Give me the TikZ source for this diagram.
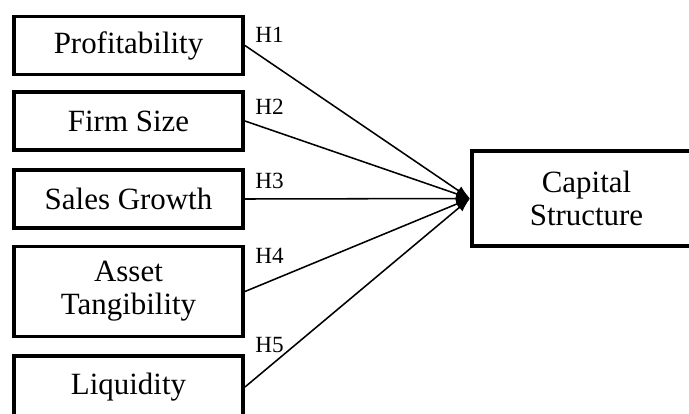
\documentclass[tikz,border=0pt]{standalone}
\usepackage{fontspec}
\setmainfont{Liberation Serif}
\usetikzlibrary{arrows.meta}
\begin{document}
\begin{tikzpicture}[var/.style={shape=rectangle, draw=black, line width=2.8pt, minimum width=5.725cm, minimum height=1.45cm, align=center, font=\fontsize{22}{23.5}\selectfont}, hyp/.style={anchor=base west, inner sep=0pt, font=\fontsize{16.5}{18}\selectfont}, link/.style={-{Latex[length=0.35cm, width=0.25cm]}, line width=1.1pt, draw=black}]
\useasboundingbox (0,0) rectangle (17.225,10.325);
\node[var] (prof) at (3.2125, 9.1875) {Profitability};
\node[var] (size) at (3.2125, 7.3) {Firm Size};
\node[var] (grow) at (3.2125, 5.35) {Sales Growth};
\node[var, minimum height=2.25cm] (tang) at (3.2125, 3.0375) {Asset\\Tangibility};
\node[var, minimum height=1.55cm] (liq) at (3.2125, 0.65) {Liquidity};
\node[var, minimum height=2.375cm] (cap) at (14.6625, 5.3625) {Capital\\Structure};
\node[hyp] (h1) at (6.375, 9.275) {H1};
\node[hyp] (h2) at (6.375, 7.45) {H2};
\node[hyp] (h3) at (6.375, 5.625) {H3};
\node[hyp] (h4) at (6.375, 3.75) {H4};
\node[hyp] (h5) at (6.375, 1.525) {H5};
\draw [link] (prof.east) -- (cap.west);
\draw [link] (size.east) -- (cap.west);
\draw [link] (grow.east) -- (cap.west);
\draw [link] (tang.east) -- (cap.west);
\draw [link] (liq.east) -- (cap.west);
\end{tikzpicture}
\end{document}
